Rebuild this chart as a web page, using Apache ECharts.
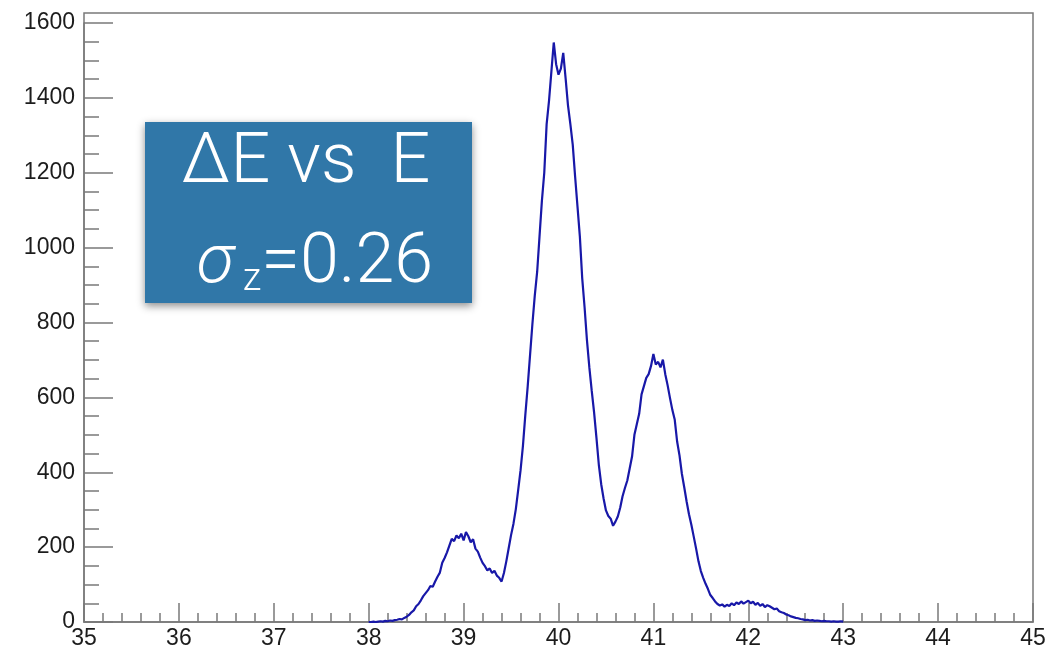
<!DOCTYPE html>
<html>
<head>
<meta charset="utf-8">
<script src="https://cdn.jsdelivr.net/npm/echarts@6.0.0/dist/echarts.min.js"></script>
<style>
html, body { margin: 0; padding: 0; background: #fff; }
#main { width: 1053px; height: 650px; }
</style>
</head>
<body>
<div id="main"></div>
<script>
// histogram bins, 0.025 wide, starting at 38.0
var binStart = 38.0;
var binWidth = 0.025;
var counts = [
    0,0,1,0,1,2,1,3,2,4,3,5,6,8,7,11,14,19,26,31,
    42,48,58,69,77,85,96,94,108,121,132,158,171,186,204,222,216,231,224,236,
    218,240,229,213,221,196,188,172,158,149,138,143,131,137,124,118,108,131,162,197,
    232,262,301,352,405,470,552,628,712,796,872,935,1030,1125,1200,1330,1392,1470,1548,1490,
    1462,1478,1520,1452,1380,1330,1275,1190,1110,1030,918,840,752,680,618,560,492,420,368,330,
    298,283,276,257,268,282,305,336,358,378,410,442,500,528,556,608,630,652,662,684,
    716,688,695,680,701,662,632,598,566,540,482,445,396,360,322,288,260,228,196,162,
    136,118,102,88,72,64,55,48,44,47,41,46,43,50,45,52,48,55,49,53,
    57,50,54,46,51,43,48,40,45,42,38,34,36,29,26,24,20,18,15,13,
    11,10,8,7,5,6,4,5,3,4,3,2,3,2,2,1,2,1,1,2,
    1
];
var xTicks = [35, 36, 37, 38, 39, 40, 41, 42, 43, 44, 45];
var yTicks = [0, 200, 400, 600, 800, 1000, 1200, 1400, 1600];

var axisGray = '#7a7a7a';
var labelFont = 'Liberation Sans, Arial, Helvetica, sans-serif';

var myChart = echarts.init(document.getElementById('main'));

myChart.setOption({
    animation: false,
    grid: { left: 84, right: 20, top: 23, bottom: 28 },
    xAxis: {
        type: 'value',
        min: xTicks[0],
        max: xTicks[xTicks.length - 1],
        interval: 1,
        axisLine: { lineStyle: { color: axisGray, width: 1.5 } },
        axisTick: { inside: true, length: 19, lineStyle: { color: axisGray, width: 1.5 } },
        minorTick: { show: true, splitNumber: 5, length: 9, lineStyle: { color: axisGray, width: 1.5 } },
        splitLine: { show: false },
        axisLabel: { color: '#1c1c1c', fontSize: 23, fontFamily: labelFont, margin: 5 }
    },
    yAxis: {
        type: 'value',
        min: yTicks[0],
        max: yTicks[yTicks.length - 1],
        interval: 200,
        axisLine: { show: true, lineStyle: { color: axisGray, width: 1.5 } },
        axisTick: { show: true, inside: true, length: 29, lineStyle: { color: axisGray, width: 1.5 } },
        minorTick: { show: true, splitNumber: 4, length: 15, lineStyle: { color: axisGray, width: 1.5 } },
        splitLine: { show: false },
        axisLabel: {
            color: '#1c1c1c', fontSize: 23, fontFamily: labelFont, margin: 9,
            formatter: function (v) { return String(v); }
        }
    },
    series: [{
        type: 'line',
        showSymbol: false,
        lineStyle: { color: '#1818a8', width: 2.2 },
        data: counts.map(function (c, i) {
            return [+(binStart + i * binWidth).toFixed(3), c];
        })
    }],
    graphic: [
        {
            // frame (top edge sits a bit above the 1600 tick)
            type: 'rect',
            silent: true,
            z: 0,
            shape: { x: 84, y: 13, width: 949, height: 609 },
            style: { fill: 'none', stroke: axisGray, lineWidth: 1.5 }
        },
        {
            type: 'rect',
            z: 10,
            shape: { x: 145, y: 122, width: 327, height: 181 },
            style: {
                fill: '#3077a8',
                shadowBlur: 8,
                shadowColor: 'rgba(0,0,0,0.45)',
                shadowOffsetY: 3
            }
        },
        {
            type: 'text',
            z: 11,
            x: 306,
            y: 164,
            style: {
                text: 'ΔE vs  E',
                fill: '#fff',
                font: '300 70px Roboto, "Open Sans", sans-serif',
                align: 'center',
                verticalAlign: 'middle'
            }
        },
        {
            type: 'text',
            z: 11,
            x: 315,
            y: 261,
            style: {
                text: '{s|σ}{z| z}{n|=0.26}',
                fill: '#fff',
                align: 'center',
                verticalAlign: 'middle',
                rich: {
                    s: { fill: '#fff', fontSize: 68, fontStyle: 'italic', fontWeight: 300, fontFamily: 'Roboto, sans-serif', verticalAlign: 'bottom', lineHeight: 76 },
                    z: { fill: '#fff', fontSize: 38, fontWeight: 300, fontFamily: 'Roboto, sans-serif', verticalAlign: 'bottom', lineHeight: 76 },
                    n: { fill: '#fff', fontSize: 70, fontWeight: 300, fontFamily: 'Roboto, sans-serif', verticalAlign: 'bottom', lineHeight: 76 }
                }
            }
        }
    ]
});
</script>
</body>
</html>
